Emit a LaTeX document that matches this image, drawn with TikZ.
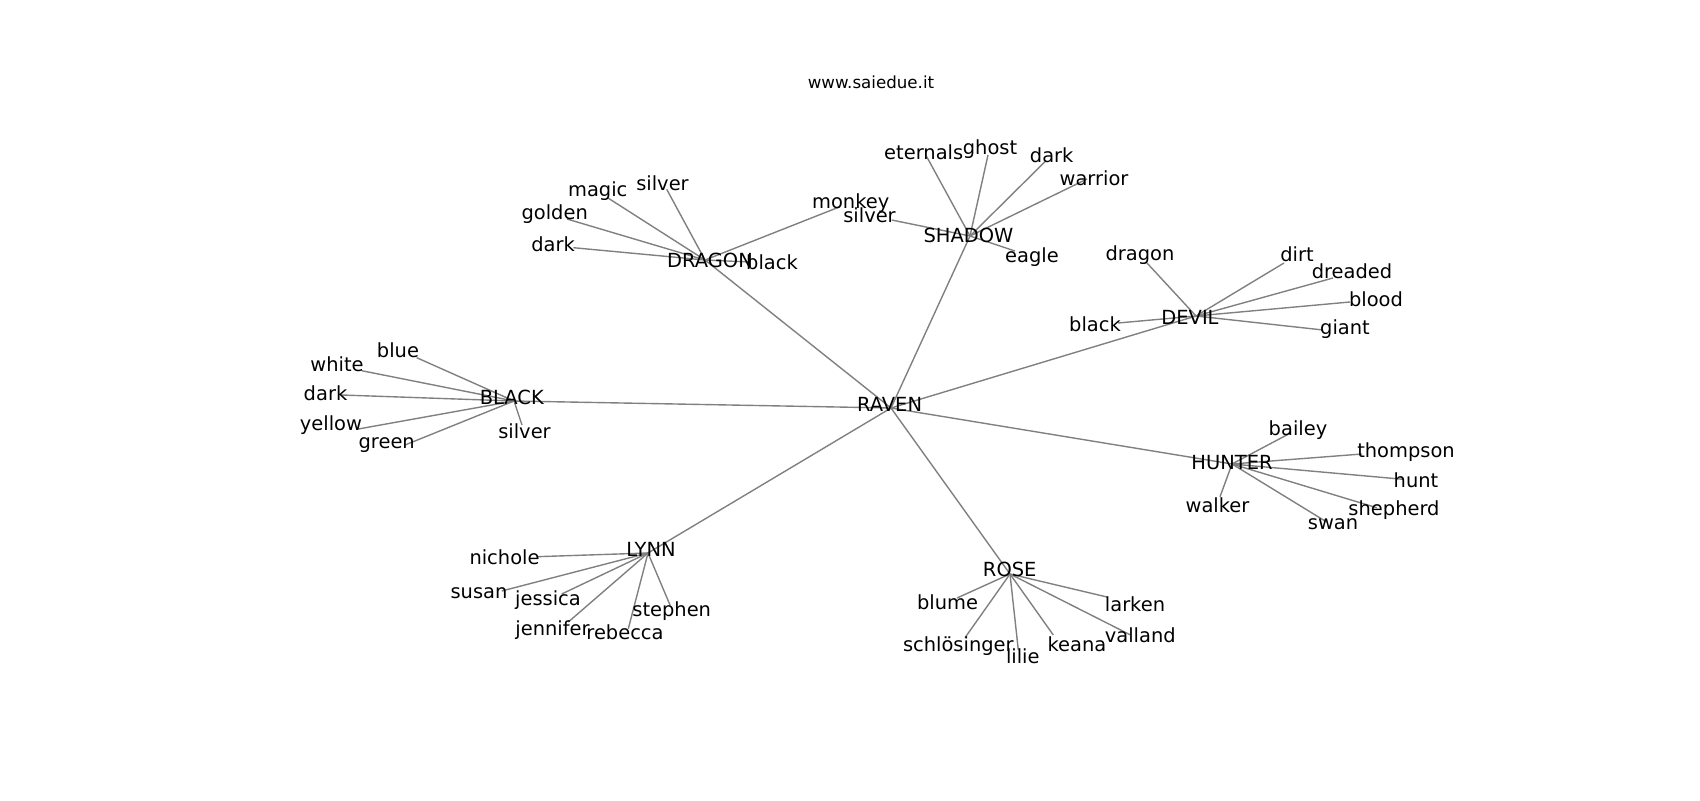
\documentclass[tikz,border=0pt]{standalone}
\usepackage{fontspec}
\setmainfont{DejaVu Sans}
\begin{document}
\begin{tikzpicture}[x=0.72pt,y=-0.72pt,
  lbl/.style={font=\fontsize{14}{16}\selectfont, inner sep=0pt, anchor=base, text=black},
  ttl/.style={font=\fontsize{12}{14}\selectfont, inner sep=0pt, anchor=base, text=black},
  edge/.style={draw={rgb,255:red,128;green,128;blue,128}, line width=1pt}]
\fill[white] (0,0) rectangle (1700,800);
\useasboundingbox (0,0) rectangle (1700,800);

\node[ttl] (title) at (871,88) {www.saiedue.it};

% hub points
\coordinate (p-raven)  at (891,408);
\coordinate (p-dragon) at (705,260);
\coordinate (p-shadow) at (970,236);
\coordinate (p-devil)  at (1196,316);
\coordinate (p-black)  at (514,401);
\coordinate (p-hunter) at (1232,464);
\coordinate (p-lynn)   at (648,553);
\coordinate (p-rose)   at (1010,574);

% leaf points
\coordinate (e-magic)   at (608,198);
\coordinate (e-silver1) at (666.7,189.3);
\coordinate (e-golden)  at (567,219);
\coordinate (e-dark1)   at (573.3,247.7);
\coordinate (e-monkey)  at (840,206.7);
\coordinate (e-black1)  at (750,262);

\coordinate (e-eternals) at (926.7,156.7);
\coordinate (e-ghost)    at (988,155);
\coordinate (e-dark2)    at (1045,161.7);
\coordinate (e-warrior)  at (1087,179);
\coordinate (e-silver2)  at (891.7,220);
\coordinate (e-eagle)    at (1015,251);

\coordinate (e-dragon2) at (1147,263);
\coordinate (e-dirt)    at (1284,263);
\coordinate (e-dreaded) at (1333,278);
\coordinate (e-blood)   at (1350,302);
\coordinate (e-giant)   at (1323,330);
\coordinate (e-black2)  at (1118,323);

\coordinate (e-blue)    at (416.7,357.7);
\coordinate (e-white)   at (361.7,370.7);
\coordinate (e-dark3)   at (342,395);
\coordinate (e-yellow)  at (358.3,429);
\coordinate (e-green)   at (405,445);
\coordinate (e-silver3) at (522,425);

\coordinate (e-bailey)   at (1290,433.3);
\coordinate (e-thompson) at (1362,454);
\coordinate (e-hunt)     at (1403.3,479.3);
\coordinate (e-shepherd) at (1376.7,507.7);
\coordinate (e-swan)     at (1326.7,522);
\coordinate (e-walker)   at (1220,496.7);

\coordinate (e-nichole)  at (536.7,556.7);
\coordinate (e-susan)    at (501.7,591);
\coordinate (e-jessica)  at (561.7,594);
\coordinate (e-jennifer) at (568.3,622);
\coordinate (e-rebecca)  at (628.3,628.7);
\coordinate (e-stephen)  at (670,605);

\coordinate (e-blume)   at (957,598);
\coordinate (e-schl)    at (965,637.7);
\coordinate (e-lilie)   at (1018.3,650);
\coordinate (e-keana)   at (1053.3,635);
\coordinate (e-valland) at (1130,634.7);
\coordinate (e-larken)  at (1107,597);

% edges
\foreach \h in {dragon,shadow,devil,black,hunter,lynn,rose}
  \draw[edge] (p-raven) -- (p-\h);
\foreach \l in {magic,silver1,golden,dark1,monkey,black1}
  \draw[edge] (p-dragon) -- (e-\l);
\foreach \l in {eternals,ghost,dark2,warrior,silver2,eagle}
  \draw[edge] (p-shadow) -- (e-\l);
\foreach \l in {dragon2,dirt,dreaded,blood,giant,black2}
  \draw[edge] (p-devil) -- (e-\l);
\foreach \l in {blue,white,dark3,yellow,green,silver3}
  \draw[edge] (p-black) -- (e-\l);
\foreach \l in {bailey,thompson,hunt,shepherd,swan,walker}
  \draw[edge] (p-hunter) -- (e-\l);
\foreach \l in {nichole,susan,jessica,jennifer,rebecca,stephen}
  \draw[edge] (p-lynn) -- (e-\l);
\foreach \l in {blume,schl,lilie,keana,valland,larken}
  \draw[edge] (p-rose) -- (e-\l);

% hub labels
\node[lbl] (raven)  at (889.6,411) {RAVEN};
\node[lbl] (dragon) at (710,267) {DRAGON};
\node[lbl] (shadow) at (968.5,242) {SHADOW};
\node[lbl] (devil)  at (1190,324) {DEVIL};
\node[lbl] (black)  at (511.8,404) {BLACK};
\node[lbl] (hunter) at (1232,469) {HUNTER};
\node[lbl] (lynn)   at (651,556.7) {LYNN};
\node[lbl] (rose)   at (1009.7,576.7) {ROSE};

% leaf labels
\node[lbl] (l-magic)   at (597.7,196.7) {magic};
\node[lbl] (l-silver1) at (662.5,190) {silver};
\node[lbl] (l-golden)  at (554.7,219.3) {golden};
\node[lbl] (l-dark1)   at (553,251.7) {dark};
\node[lbl] (l-monkey)  at (850.7,208) {monkey};
\node[lbl] (l-black1)  at (772,269) {black};

\node[lbl] (l-eternals) at (923.7,159) {eternals};
\node[lbl] (l-ghost)    at (990,154.7) {ghost};
\node[lbl] (l-dark2)    at (1051.7,162.3) {dark};
\node[lbl] (l-warrior)  at (1094,185) {warrior};
\node[lbl] (l-silver2)  at (869.5,222.3) {silver};
\node[lbl] (l-eagle)    at (1032,262) {eagle};

\node[lbl] (l-dragon2) at (1140,260.7) {dragon};
\node[lbl] (l-dirt)    at (1297,261) {dirt};
\node[lbl] (l-dreaded) at (1352,278) {dreaded};
\node[lbl] (l-blood)   at (1376,306) {blood};
\node[lbl] (l-giant)   at (1345,334.7) {giant};
\node[lbl] (l-black2)  at (1095,331) {black};

\node[lbl] (l-blue)    at (398,357.3) {blue};
\node[lbl] (l-white)   at (337,371.7) {white};
\node[lbl] (l-dark3)   at (325.5,400) {dark};
\node[lbl] (l-yellow)  at (331,430.7) {yellow};
\node[lbl] (l-green)   at (386.7,448.3) {green};
\node[lbl] (l-silver3) at (524.5,438) {silver};

\node[lbl] (l-bailey)   at (1298,435) {bailey};
\node[lbl] (l-thompson) at (1406,457.7) {thompson};
\node[lbl] (l-hunt)     at (1416,487.7) {hunt};
\node[lbl] (l-shepherd) at (1394,515.3) {shepherd};
\node[lbl] (l-swan)     at (1333,529.7) {swan};
\node[lbl] (l-walker)   at (1217.5,512.7) {walker};

\node[lbl] (l-nichole)  at (504.5,564) {nichole};
\node[lbl] (l-susan)    at (479,598) {susan};
\node[lbl] (l-jessica)  at (548,605.3) {jessica};
\node[lbl] (l-jennifer) at (552.5,635.3) {jennifer};
\node[lbl] (l-rebecca)  at (625,639.7) {rebecca};
\node[lbl] (l-stephen)  at (671.7,616.7) {stephen};

\node[lbl] (l-blume)   at (947.5,609) {blume};
\node[lbl] (l-schl)    at (958.3,651) {schlösinger};
\node[lbl] (l-lilie)   at (1022.8,663.3) {lilie};
\node[lbl] (l-keana)   at (1077,651) {keana};
\node[lbl] (l-valland) at (1140.3,642) {valland};
\node[lbl] (l-larken)  at (1135,611) {larken};
\end{tikzpicture}
\end{document}
